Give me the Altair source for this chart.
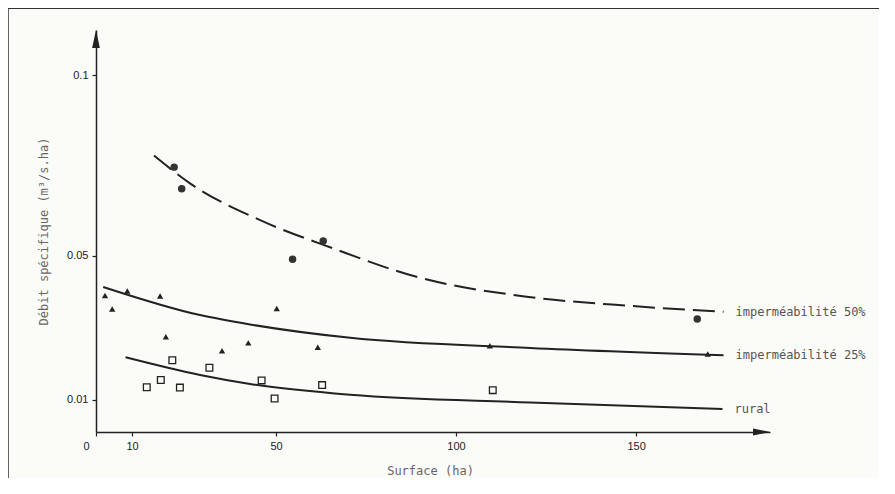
import altair as alt
import pandas as pd

# axis ticks and domains
x_ticks = [0, 10, 50, 100, 150]
y_ticks = [0.01, 0.05, 0.1]
x_domain = [0, 187.2]
y_domain = [0.0011, 0.1125]

# observed points
circ_x = [21.7, 23.8, 54.6, 63.1, 167.0]
circ_y = [0.0745, 0.0685, 0.049, 0.054, 0.0324]
tri_x = [2.5, 4.5, 8.7, 17.8, 19.4, 35.0, 42.3, 50.2, 61.6, 109.4, 169.9]
tri_y = [0.0389, 0.0352, 0.0402, 0.0388, 0.0275, 0.0236, 0.0258, 0.0353, 0.0246, 0.0250, 0.0227]
sq_x = [14.1, 18.0, 21.2, 23.3, 31.5, 46.0, 49.6, 62.8, 110.2]
sq_y = [0.0135, 0.0155, 0.0210, 0.0134, 0.0189, 0.0154, 0.0104, 0.0141, 0.0127]

# fitted curves (read points)
c50_x = [16.1, 26.1, 45.6, 65.8, 89.0, 119.6, 149.0, 174.3]
c50_y = [0.0777, 0.0700, 0.0598, 0.0520, 0.0441, 0.0386, 0.0360, 0.0344]
c25_x = [2.0, 28.9, 42.8, 70.6, 120.6, 174.3]
c25_y = [0.0413, 0.0335, 0.0309, 0.0272, 0.0244, 0.0224]
rur_x = [8.2, 28.9, 42.8, 70.6, 120.6, 174.0]
rur_y = [0.0218, 0.0169, 0.0144, 0.0114, 0.0093, 0.0075]

curve_labels = ["imperméabilité 50%", "imperméabilité 25%", "rural"]

INK = "#222222"
MONO = "DejaVu Sans Mono"
SANS = "Liberation Sans"

X = alt.X("x:Q", scale=alt.Scale(domain=x_domain, nice=False, zero=False),
          axis=alt.Axis(values=x_ticks, grid=False, domainColor=INK, domainWidth=1.5,
                        tickColor=INK, tickSize=4, tickWidth=1.2,
                        labelFont=SANS, labelFontSize=11, labelColor=INK, labelPadding=4,
                        labelFlush=False,
                        labelOffset={"expr": "datum.value == 0 ? -10 : 0"},
                        title="Surface (ha)", titleFont=MONO, titleFontSize=12,
                        titleFontWeight="normal", titleColor="#666666",
                        titleX=334, titleY=38, titleAlign="center", titleBaseline="middle"))
Y = alt.Y("y:Q", scale=alt.Scale(domain=y_domain, nice=False, zero=False),
          axis=alt.Axis(values=y_ticks, grid=False, domainColor=INK, domainWidth=1.5,
                        tickColor=INK, tickSize=4, tickWidth=1.2,
                        labelFont=SANS, labelFontSize=11, labelColor=INK, labelPadding=4,
                        labelFlush=False,
                        labelExpr="'' + datum.value",
                        title="Débit spécifique (m³/s.ha)", titleFont=MONO, titleFontSize=12,
                        titleFontWeight="normal", titleColor="#666666", titleAngle=-90,
                        titleX=-53, titleY=201, titleAlign="center", titleBaseline="middle"))


def df(xs, ys):
    return pd.DataFrame({"x": xs, "y": ys})


line50 = alt.Chart(df(c50_x, c50_y)).mark_line(
    interpolate="monotone", color=INK, strokeWidth=2, strokeDash=[22, 8]).encode(x=X, y=Y)
line25 = alt.Chart(df(c25_x, c25_y)).mark_line(
    interpolate="monotone", color=INK, strokeWidth=2).encode(x=X, y=Y)
liner = alt.Chart(df(rur_x, rur_y)).mark_line(
    interpolate="monotone", color=INK, strokeWidth=2).encode(x=X, y=Y)

circles = alt.Chart(df(circ_x, circ_y)).mark_point(
    shape="circle", filled=True, size=56, color="#333333", opacity=1).encode(x=X, y=Y)
triangles = alt.Chart(df(tri_x, tri_y)).mark_point(
    shape="triangle-up", filled=True, size=40, color=INK, opacity=1).encode(x=X, y=Y)
squares = alt.Chart(df(sq_x, sq_y)).mark_point(
    shape="square", filled=False, size=45, color=INK, strokeWidth=1.3, opacity=1).encode(x=X, y=Y)

lab_df = pd.DataFrame({
    "x": [c50_x[-1], c25_x[-1], rur_x[-1]],
    "y": [c50_y[-1], c25_y[-1], rur_y[-1]],
    "t": curve_labels,
})
labels = alt.Chart(lab_df).mark_text(
    align="left", baseline="middle", dx=12, font=MONO, fontSize=12, color="#555555"
).encode(x=X, y=Y, text="t:N")

arrow_up = alt.Chart(df([x_domain[0]], [y_domain[1]])).mark_point(
    shape="M0,0L0.43,2L-0.43,2Z", filled=True, size=324, color=INK, opacity=1
).encode(x=X, y=Y)
arrow_right = alt.Chart(df([x_domain[1]], [y_domain[0]])).mark_point(
    shape="M0,0L-2,0.42L-2,-0.42Z", filled=True, size=289, color=INK, opacity=1
).encode(x=X, y=Y)

frame_top = alt.Chart(df([0], [0])).mark_rule(color="#333333", strokeWidth=2).encode(
    x=alt.value(-88), x2=alt.value(800), y=alt.value(-22))
frame_left = alt.Chart(df([0], [0])).mark_rule(color="#333333", strokeWidth=1.5).encode(
    x=alt.value(-88), y=alt.value(-22), y2=alt.value(470))

chart = alt.layer(
    frame_top, frame_left, line50, line25, liner, circles, triangles, squares,
    labels, arrow_up, arrow_right
).properties(
    width=674, height=402,
    autosize=alt.AutoSizeParams(type="none"),
    padding={"left": 88, "top": 22, "right": 109, "bottom": 46},
    background="#fbfbf7",
).configure_view(stroke=None)

chart.save("out.html", embed_options={"renderer": "svg", "actions": False})
